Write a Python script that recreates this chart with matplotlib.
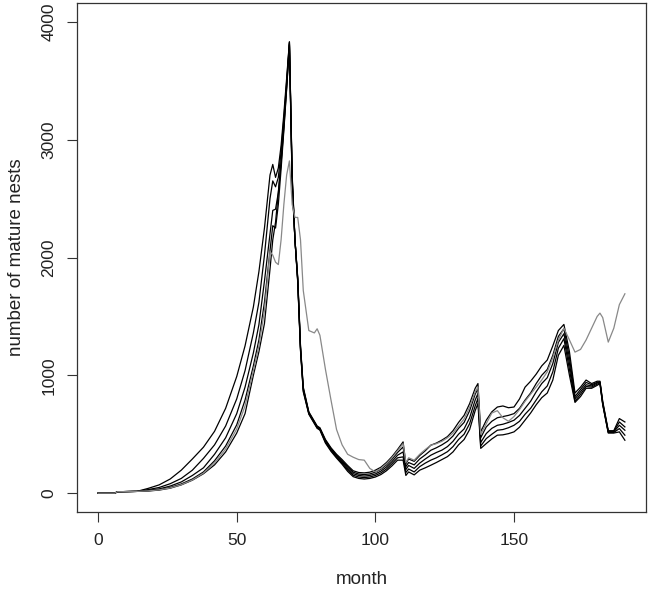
import matplotlib
matplotlib.use("Agg")
import matplotlib.pyplot as plt

plt.rcParams['font.family'] = ['Liberation Sans', 'DejaVu Sans']

months = [0, 6, 7, 14, 18, 22, 26, 30, 34, 38, 42, 46, 50, 53, 56, 58, 60, 62, 63, 64,
          65, 66, 67, 68, 69, 70, 71, 72, 73, 74, 76, 78, 79, 80, 82, 84, 86, 88, 90, 92,
          94, 96, 98, 100, 102, 104, 106, 108, 110, 111, 112, 114, 116, 118, 120, 122, 124, 126, 128, 130,
          132, 134, 136, 137, 138, 140, 142, 144, 146, 148, 150, 152, 154, 156, 158, 160, 162, 164, 166, 168,
          170, 172, 174, 176, 178, 180, 181, 182, 184, 186, 188, 190]

# black runs
run1 = [0, 0, 12, 15, 40, 70, 120, 195, 290, 390, 525, 720, 990, 1250, 1580, 1880, 2250, 2700, 2790, 2680,
        2760, 2950, 3220, 3520, 3830, 2700, 2150, 1830, 1250, 900, 690, 610, 570, 555, 455, 385, 330, 285, 235, 190,
        175, 172, 178, 195, 220, 260, 310, 370, 435, 250, 290, 270, 320, 360, 407, 425, 450, 480, 530, 600,
        660, 760, 890, 930, 520, 619, 690, 731, 740, 725, 731, 800, 900, 950, 1010, 1080, 1130, 1250, 1380, 1432,
        1200, 850, 900, 960, 930, 950, 950, 780, 530, 530, 633, 604]
run2 = [0, 0, 12, 15, 30, 48, 80, 125, 195, 295, 410, 570, 800, 1040, 1360, 1620, 2020, 2500, 2650, 2600,
        2680, 2900, 3180, 3490, 3830, 2680, 2150, 1820, 1240, 890, 685, 605, 565, 550, 448, 378, 322, 275, 222, 178,
        162, 158, 163, 178, 203, 240, 288, 345, 392, 225, 260, 240, 290, 325, 364, 385, 410, 440, 485, 550,
        600, 700, 840, 887, 470, 562, 610, 640, 650, 660, 675, 720, 790, 850, 930, 1000, 1050, 1170, 1330, 1395,
        1150, 820, 880, 940, 920, 940, 945, 770, 525, 525, 604, 562]
run3 = [0, 0, 12, 15, 24, 36, 60, 95, 150, 215, 330, 470, 675, 900, 1190, 1430, 1800, 2200, 2400, 2410,
        2550, 2820, 3130, 3460, 3820, 2660, 2150, 1810, 1230, 880, 680, 600, 560, 545, 440, 370, 315, 265, 210, 165,
        150, 145, 150, 163, 187, 222, 268, 322, 350, 200, 235, 210, 255, 290, 322, 345, 365, 395, 440, 500,
        545, 640, 790, 845, 430, 506, 550, 576, 585, 600, 619, 660, 720, 780, 860, 930, 980, 1100, 1280, 1353,
        1100, 800, 860, 920, 910, 935, 940, 760, 520, 520, 576, 534]
run4 = [0, 0, 12, 15, 20, 30, 48, 78, 120, 180, 275, 400, 580, 790, 1080, 1300, 1620, 2059, 2270, 2250,
        2450, 2750, 3080, 3430, 3810, 2640, 2150, 1800, 1220, 870, 675, 595, 555, 540, 432, 362, 305, 255, 197, 152,
        137, 132, 137, 150, 172, 205, 250, 300, 308, 175, 205, 180, 225, 255, 280, 300, 325, 352, 395, 455,
        500, 590, 740, 803, 400, 463, 500, 534, 540, 555, 576, 610, 670, 720, 790, 860, 910, 1030, 1230, 1311,
        1050, 780, 840, 905, 900, 925, 935, 755, 515, 515, 548, 492]
run5 = [0, 0, 12, 15, 18, 26, 42, 70, 110, 165, 240, 350, 510, 675, 1000, 1200, 1440, 1900, 2150, 2300,
        2550, 2800, 3100, 3440, 3800, 2620, 2150, 1790, 1210, 860, 670, 590, 550, 535, 425, 355, 298, 245, 185, 140,
        125, 120, 125, 137, 158, 190, 232, 280, 280, 150, 180, 155, 195, 215, 237, 260, 285, 310, 350, 410,
        455, 540, 700, 760, 380, 421, 460, 492, 495, 505, 520, 560, 620, 680, 750, 810, 850, 960, 1170, 1254,
        1000, 770, 820, 890, 890, 915, 930, 750, 510, 510, 520, 449]
# grey run
run_grey = [0, 0, 12, 15, 19, 28, 44, 72, 112, 170, 255, 375, 545, 740, 1040, 1250, 1550, 2050, 2020, 1960,
            1940, 2150, 2450, 2700, 2820, 2450, 2340, 2340, 2150, 1720, 1380, 1360, 1395, 1340, 1050, 790, 540, 410, 330, 305,
            285, 280, 210, 180, 210, 250, 300, 360, 420, 260, 300, 280, 330, 370, 407, 420, 440, 470, 510, 570,
            630, 730, 860, 900, 500, 590, 680, 700, 640, 610, 650, 710, 780, 840, 900, 960, 1030, 1150, 1300, 1400,
            1300, 1197, 1220, 1300, 1400, 1500, 1528, 1490, 1282, 1400, 1600, 1692]

fig = plt.figure(figsize=(6.5, 5.9), dpi=100)
ax = fig.add_axes([0.1185, 0.1322, 0.8753, 0.8627])

for run in [run1, run2, run3, run4, run5]:
    ax.plot(months, run, color='black', lw=0.9)
ax.plot(months, run_grey, color='#888888', lw=0.9)

ax.set_xlim(-7.6, 197.6)
ax.set_ylim(-160, 4160)
ax.set_xticks([0, 50, 100, 150])
ax.set_yticks([0, 1000, 2000, 3000, 4000])
ax.set_yticklabels(['0', '1000', '2000', '3000', '4000'], rotation=90, va='center')
ax.tick_params(direction='out', length=7, width=0.8, labelsize=12.5, pad=8, color='#333333',
               labelcolor='#222222')
for s in ax.spines.values():
    s.set_linewidth(0.9)
    s.set_color('#333333')

ax.set_xlabel('month', fontsize=13.5, labelpad=17, color='#222222')
ax.set_ylabel('number of mature nests', fontsize=13.5, labelpad=12, color='#222222')

fig.savefig('out.png', dpi=100)
